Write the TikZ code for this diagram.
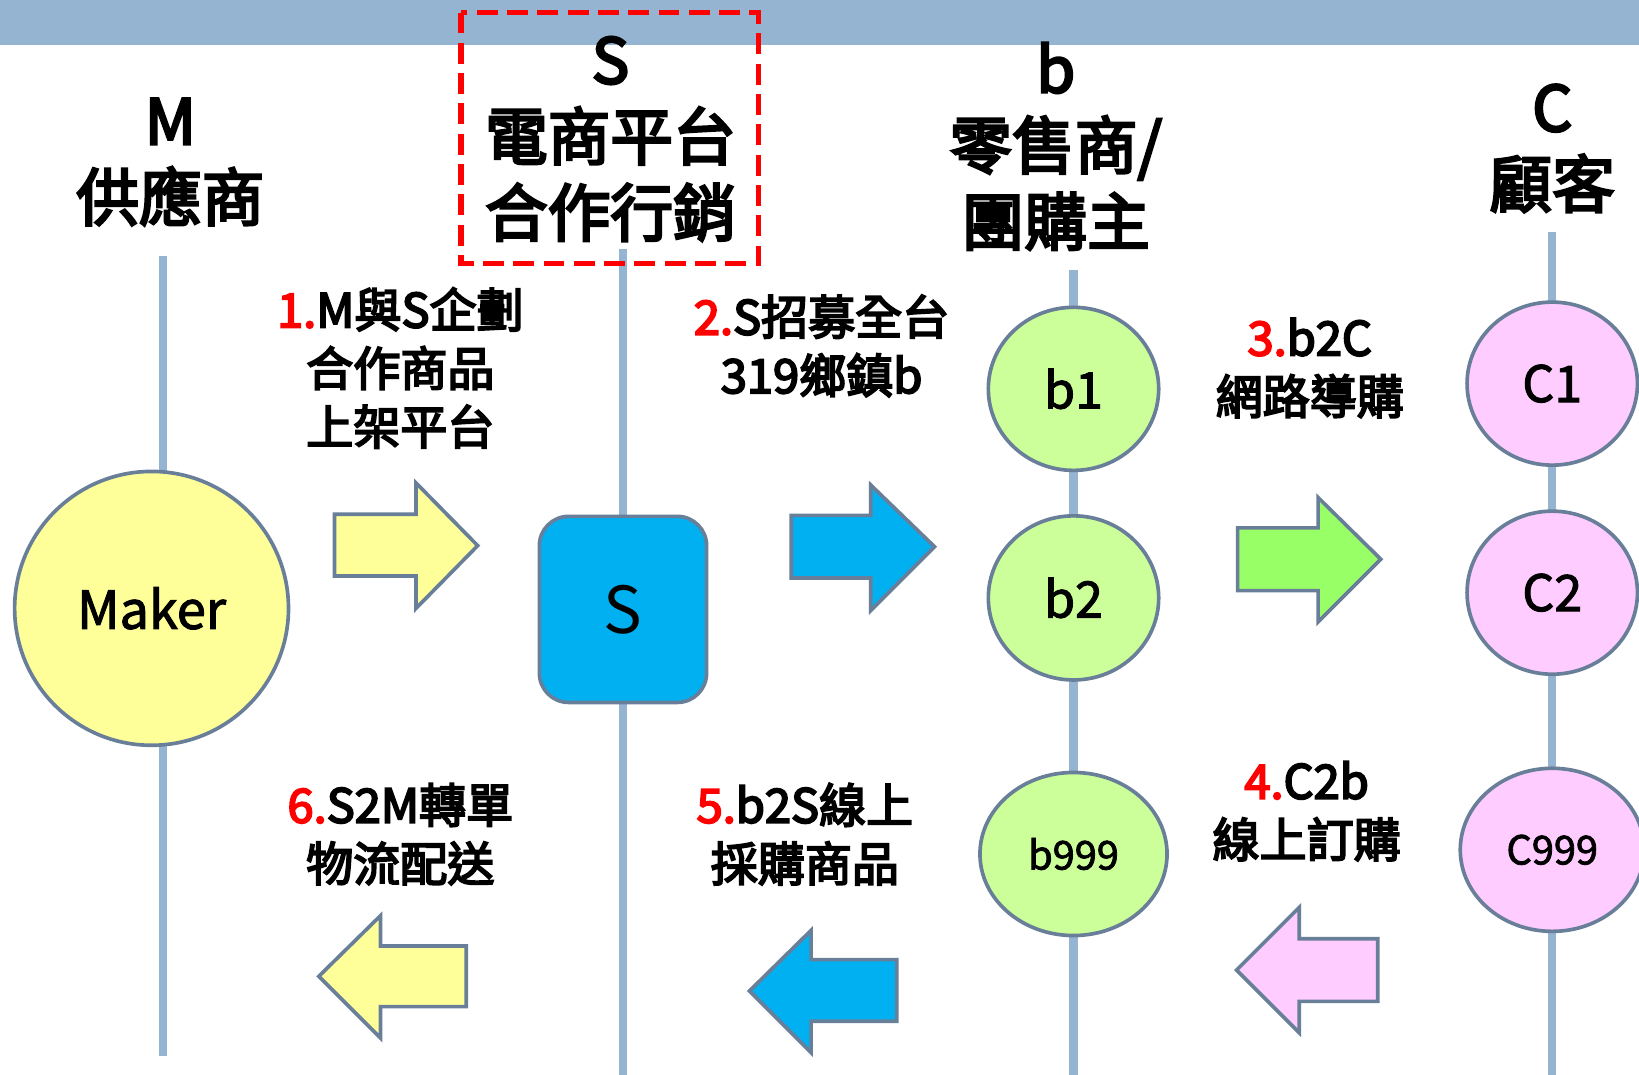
\documentclass[tikz,border=0pt]{standalone}
\usepackage{fontspec}
\setmainfont{Noto Sans CJK TC}
\newfontfamily\medfont{Noto Sans CJK TC}[FakeBold=4]
\newfontfamily\semifont{Noto Sans CJK TC}[FakeBold=2]
\usetikzlibrary{shapes.geometric}
\definecolor{band}{RGB}{149,180,209}
\definecolor{edge}{RGB}{105,127,153}
\definecolor{ylw}{RGB}{255,255,153}
\definecolor{sky}{RGB}{0,176,240}
\definecolor{lgreen}{RGB}{204,255,153}
\definecolor{bgreen}{RGB}{153,255,102}
\definecolor{lpink}{RGB}{255,204,255}
\newcommand\rn[1]{{\color{red}#1}}
\begin{document}
\begin{tikzpicture}[x=1pt,y=-1pt,
  lane/.style={draw=band,line width=8pt},
  outl/.style={draw=edge,line width=3.5pt},
  head/.style={align=center,inner sep=0pt,font=\medfont\fontsize{60}{73}\selectfont},
  lbl/.style={align=center,inner sep=0pt,font=\medfont\fontsize{45}{56}\selectfont},
  ell/.style={outl,ellipse,inner sep=0pt},
  blk/.style={outl,line join=miter}
]
\path[use as bounding box] (0,0) rectangle (1568,1028);
% top band
\fill[band] (0,0) rectangle (1568,43);
% lanes
\draw[lane] (156,245) -- (156,1010);
\draw[lane] (596,238) -- (596,1028);
\draw[lane] (1027,258) -- (1027,1028);
\draw[lane] (1485,222) -- (1485,1028);
% red dashed frame
\draw[red,line width=5pt,dash pattern=on 20pt off 9pt] (441,12) rectangle (726,252);
% headers
\node[head] (hM) at (163,155) {M\\供應商};
\node[head] (hS) at (584,133) {S\\電商平台\\合作行銷};
\node[head] (hb) at (1010,140) {b\\零售商/\\團購主};
\node[head] (hC) at (1485,142) {C\\顧客};
% main nodes
\node[outl,circle,fill=ylw,minimum size=262pt,inner sep=0pt,font=\semifont\fontsize{50}{50}\selectfont] (maker) at (145,582) {Maker};
\node[outl,rectangle,rounded corners=28pt,fill=sky,minimum width=160pt,minimum height=178pt,font=\fontsize{62}{62}\selectfont] (s) at (596,583) {S};
\node[ell,fill=lgreen,minimum width=163pt,minimum height=156pt,font=\semifont\fontsize{48}{48}\selectfont] (b1) at (1027,372) {b1};
\node[ell,fill=lgreen,minimum width=163pt,minimum height=157pt,font=\semifont\fontsize{48}{48}\selectfont] (b2) at (1027,572) {b2};
\node[ell,fill=lgreen,minimum width=179pt,minimum height=156pt,font=\semifont\fontsize{38}{38}\selectfont] (b999) at (1027,817) {b999};
\node[ell,fill=lpink,minimum width=163pt,minimum height=156pt,font=\semifont\fontsize{48}{48}\selectfont] (c1) at (1485,367) {C1};
\node[ell,fill=lpink,minimum width=163pt,minimum height=156pt,font=\semifont\fontsize{48}{48}\selectfont] (c2) at (1485,567) {C2};
\node[ell,fill=lpink,minimum width=176pt,minimum height=156pt,font=\semifont\fontsize{38}{38}\selectfont] (c999) at (1485,813) {C999};
% block arrows
\draw[blk,fill=ylw] (320,492) -- (398,492) -- (398,462) -- (457,522) -- (398,582) -- (398,551) -- (320,551) -- cycle;
\draw[blk,fill=sky] (757,493) -- (833,493) -- (833,464) -- (894,523) -- (833,584) -- (833,553) -- (757,553) -- cycle;
\draw[blk,fill=bgreen] (1184,505) -- (1261,505) -- (1261,476) -- (1321,535) -- (1261,595) -- (1261,565) -- (1184,565) -- cycle;
\draw[blk,fill=lpink] (1318,898) -- (1243,898) -- (1243,868) -- (1183,928) -- (1243,988) -- (1243,958) -- (1318,958) -- cycle;
\draw[blk,fill=sky] (858,918) -- (776,918) -- (776,890) -- (717,948) -- (776,1007) -- (776,977) -- (858,977) -- cycle;
\draw[blk,fill=ylw] (446,905) -- (364,905) -- (364,876) -- (305,934) -- (364,993) -- (364,963) -- (446,963) -- cycle;
% labels
\node[lbl] (l1) at (383,352) {\rn{1.}M與S企劃\\合作商品\\上架平台};
\node[lbl] (l2) at (786,331) {\rn{2.}S招募全台\\319鄉鎮b};
\node[lbl] (l3) at (1253,352) {\rn{3.}b2C\\網路導購};
\node[lbl] (l4) at (1250,776) {\rn{4.}C2b\\線上訂購};
\node[lbl] (l5) at (770,798) {\rn{5.}b2S線上\\採購商品};
\node[lbl] (l6) at (383,798) {\rn{6.}S2M轉單\\物流配送};
\end{tikzpicture}
\end{document}
